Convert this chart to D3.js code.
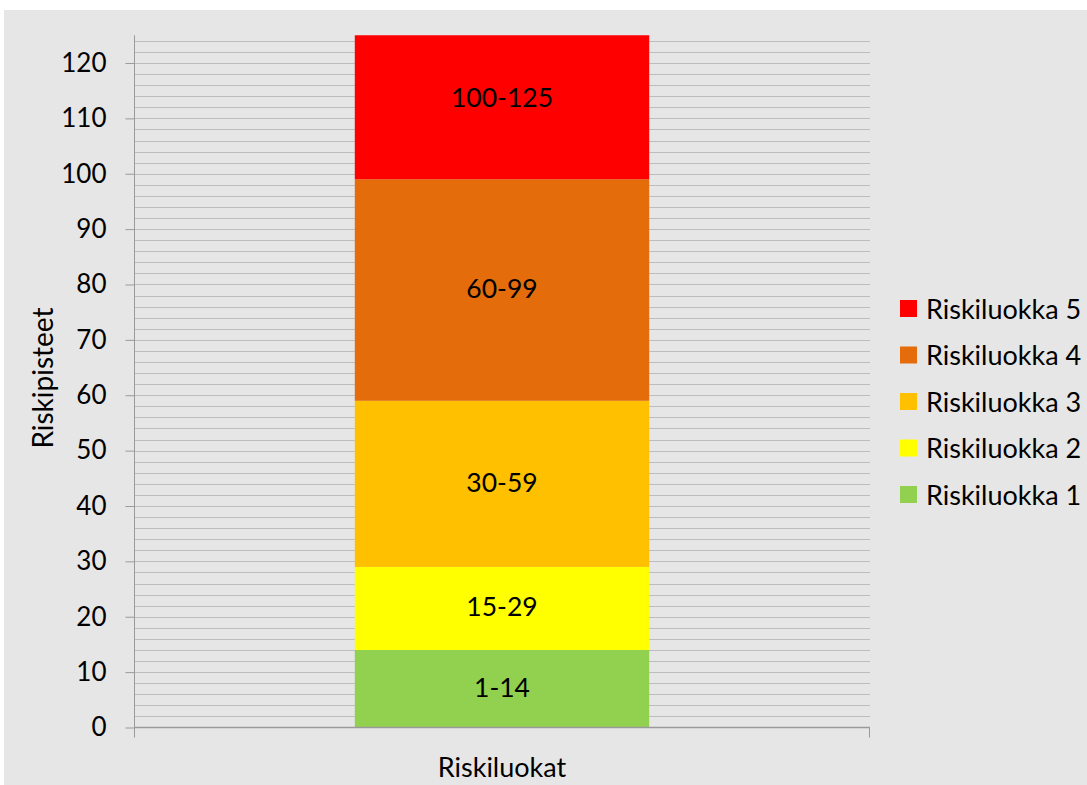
<!DOCTYPE html>
<html>
<head>
<meta charset="utf-8">
<script src="https://cdn.jsdelivr.net/npm/d3@7"></script>
<style>
  body { margin: 0; background: #fff; }
  svg text { font-family: Lato, "Open Sans", sans-serif; fill: #000; }
</style>
</head>
<body>
<svg id="chart" width="1087" height="785"></svg>
<script>
// Chart data
const categories = ['Riskiluokat'];
const seriesNames = ['Riskiluokka 1', 'Riskiluokka 2', 'Riskiluokka 3', 'Riskiluokka 4', 'Riskiluokka 5'];
const seriesValues = [14, 15, 30, 40, 29];
const segmentLabels = ['1-14', '15-29', '30-59', '60-99', '100-125'];
const seriesColors = ['#92D050', '#FFFF00', '#FFC000', '#E46C0A', '#FF0000'];
const yTicks = [0, 10, 20, 30, 40, 50, 60, 70, 80, 90, 100, 110, 120];
const yMax = 125;

const svg = d3.select('#chart');
const width = 1087, height = 785;
const fontSize = '27px';

// Chart background panel
svg.append('rect')
    .attr('x', 4).attr('y', 10)
    .attr('width', width - 4).attr('height', height - 10)
    .attr('fill', '#e6e6e6');

const plot = { left: 134, right: 870, top: 35.3, bottom: 727.5 };

const y = d3.scaleLinear()
    .domain([0, yMax])
    .range([plot.bottom, plot.top]);

const x = d3.scaleBand()
    .domain(categories)
    .range([plot.left, plot.right])
    .paddingInner(0.6)
    .paddingOuter(0.3);

// Minor gridlines every 2 points
const gridVals = d3.range(2, yMax, 2);
svg.append('g')
    .selectAll('line')
    .data(gridVals)
    .enter()
    .append('line')
    .attr('x1', plot.left)
    .attr('x2', plot.right)
    .attr('y1', d => Math.round(y(d)) + 0.5)
    .attr('y2', d => Math.round(y(d)) + 0.5)
    .attr('stroke', '#bdbdbd')
    .attr('stroke-width', 1);

// Stacked segments
let acc = 0;
const segments = seriesValues.map((v, i) => {
    const s = { name: seriesNames[i], y0: acc, y1: acc + v, label: segmentLabels[i], color: seriesColors[i] };
    acc += v;
    return s;
});

svg.append('clipPath').attr('id', 'plotClip')
    .append('rect')
    .attr('x', plot.left).attr('y', plot.top)
    .attr('width', plot.right - plot.left)
    .attr('height', plot.bottom - plot.top);

const bars = svg.append('g').attr('clip-path', 'url(#plotClip)');

bars.selectAll('rect')
    .data(segments)
    .enter()
    .append('rect')
    .attr('x', x(categories[0]))
    .attr('width', x.bandwidth())
    .attr('y', d => y(d.y1))
    .attr('height', d => y(d.y0) - y(d.y1))
    .attr('fill', d => d.color);

bars.selectAll('text')
    .data(segments)
    .enter()
    .append('text')
    .attr('x', x(categories[0]) + x.bandwidth() / 2)
    .attr('y', d => (y(d.y0) + y(d.y1)) / 2 - 2)
    .attr('text-anchor', 'middle')
    .attr('dominant-baseline', 'central')
    .attr('font-size', '26.5px')
    .text(d => d.label);

// Y axis
const yAxis = svg.append('g')
    .attr('transform', `translate(${plot.left + 0.5},0)`)
    .call(d3.axisLeft(y).tickValues(yTicks).tickSize(9).tickPadding(19).tickFormat(d3.format('d')));
yAxis.select('.domain').attr('stroke', '#9a9a9a').attr('d', `M0,${plot.top}V${plot.bottom + 10}`);
yAxis.selectAll('.tick line').attr('stroke', '#9a9a9a');
yAxis.selectAll('.tick text')
    .attr('font-size', '26px')
    .attr('font-family', 'Lato, "Open Sans", sans-serif')
    .attr('fill', '#000');

// X axis baseline with end ticks
const xAxisG = svg.append('g');
xAxisG.append('line')
    .attr('x1', plot.left).attr('x2', plot.right)
    .attr('y1', y(0)).attr('y2', y(0))
    .attr('stroke', '#9a9a9a').attr('stroke-width', 1.5);
xAxisG.append('line')
    .attr('x1', plot.right - 0.5).attr('x2', plot.right - 0.5)
    .attr('y1', y(0)).attr('y2', y(0) + 10)
    .attr('stroke', '#9a9a9a');

xAxisG.append('text')
    .attr('x', x(categories[0]) + x.bandwidth() / 2)
    .attr('y', 766)
    .attr('text-anchor', 'middle')
    .attr('dominant-baseline', 'central')
    .attr('font-size', fontSize)
    .text(categories[0]);

// Y axis title
svg.append('text')
    .attr('transform', 'translate(42,378) rotate(-90)')
    .attr('text-anchor', 'middle')
    .attr('dominant-baseline', 'central')
    .attr('font-size', '28px')
    .text('Riskipisteet');

// Legend (reverse order, top to bottom)
const legendItems = segments.slice().reverse();
const legend = svg.append('g').attr('transform', 'translate(900,308)');
const row = legend.selectAll('g')
    .data(legendItems)
    .enter()
    .append('g')
    .attr('transform', (d, i) => `translate(0,${i * 46.5})`);

row.append('rect')
    .attr('x', 0).attr('y', -8)
    .attr('width', 17).attr('height', 17)
    .attr('fill', d => d.color);

row.append('text')
    .attr('x', 26)
    .attr('y', 0)
    .attr('dominant-baseline', 'central')
    .attr('font-size', fontSize)
    .text(d => d.name);
</script>
</body>
</html>
